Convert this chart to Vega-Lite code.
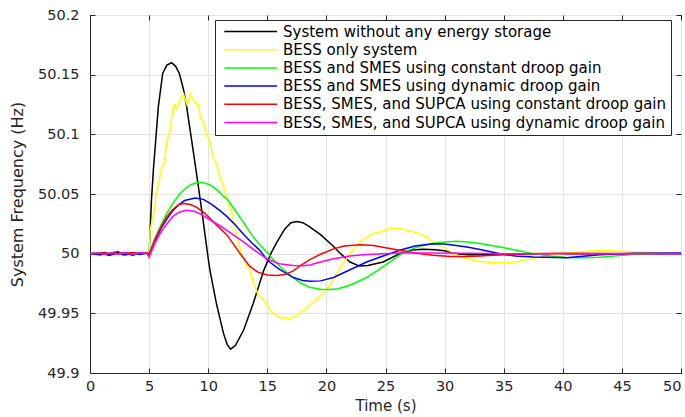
{
  "$schema": "https://vega.github.io/schema/vega-lite/v6.json",
  "width": 591,
  "height": 358,
  "autosize": {"type": "none"},
  "padding": {"left": 90, "top": 15, "right": 4, "bottom": 44},
  "background": "white",
  "config": {
    "view": {"stroke": "#262626", "strokeWidth": 1},
    "font": "DejaVu Sans",
    "axis": {
      "labelFont": "DejaVu Sans",
      "titleFont": "DejaVu Sans",
      "labelFontSize": 14.5,
      "titleFontSize": 15,
      "titleFontWeight": "normal",
      "labelColor": "#262626",
      "titleColor": "#262626",
      "domainColor": "#262626",
      "tickColor": "#262626",
      "gridColor": "#e3e3e3",
      "gridWidth": 1,
      "labelFlush": false
    }
  },
  "datasets": {
    "d": [
      {"s": "System without any energy storage", "t": 0, "f": 50.0},
      {"s": "System without any energy storage", "t": 0.4, "f": 50.001},
      {"s": "System without any energy storage", "t": 0.8, "f": 49.999},
      {"s": "System without any energy storage", "t": 1.2, "f": 50.0},
      {"s": "System without any energy storage", "t": 1.6, "f": 49.9985},
      {"s": "System without any energy storage", "t": 2.0, "f": 50.001},
      {"s": "System without any energy storage", "t": 2.4, "f": 50.0015},
      {"s": "System without any energy storage", "t": 2.8, "f": 49.999},
      {"s": "System without any energy storage", "t": 3.2, "f": 50.0005},
      {"s": "System without any energy storage", "t": 3.6, "f": 49.9985},
      {"s": "System without any energy storage", "t": 4.0, "f": 50.0},
      {"s": "System without any energy storage", "t": 4.4, "f": 50.001},
      {"s": "System without any energy storage", "t": 4.8, "f": 50.0005},
      {"s": "System without any energy storage", "t": 5.0, "f": 50.0},
      {"s": "System without any energy storage", "t": 5.05, "f": 50.01},
      {"s": "System without any energy storage", "t": 5.2, "f": 50.045},
      {"s": "System without any energy storage", "t": 5.36, "f": 50.07},
      {"s": "System without any energy storage", "t": 5.56, "f": 50.095},
      {"s": "System without any energy storage", "t": 5.78, "f": 50.123},
      {"s": "System without any energy storage", "t": 6.15, "f": 50.151},
      {"s": "System without any energy storage", "t": 6.5, "f": 50.158},
      {"s": "System without any energy storage", "t": 6.9, "f": 50.16},
      {"s": "System without any energy storage", "t": 7.25, "f": 50.157},
      {"s": "System without any energy storage", "t": 7.56, "f": 50.151},
      {"s": "System without any energy storage", "t": 7.9, "f": 50.138},
      {"s": "System without any energy storage", "t": 8.18, "f": 50.123},
      {"s": "System without any energy storage", "t": 8.6, "f": 50.095},
      {"s": "System without any energy storage", "t": 8.97, "f": 50.07},
      {"s": "System without any energy storage", "t": 9.5, "f": 50.033},
      {"s": "System without any energy storage", "t": 10.0, "f": 49.996},
      {"s": "System without any energy storage", "t": 10.15, "f": 49.986},
      {"s": "System without any energy storage", "t": 10.7, "f": 49.958},
      {"s": "System without any energy storage", "t": 11.3, "f": 49.933},
      {"s": "System without any energy storage", "t": 11.6, "f": 49.924},
      {"s": "System without any energy storage", "t": 11.9, "f": 49.92},
      {"s": "System without any energy storage", "t": 12.3, "f": 49.923},
      {"s": "System without any energy storage", "t": 13.0, "f": 49.936},
      {"s": "System without any energy storage", "t": 13.8, "f": 49.958},
      {"s": "System without any energy storage", "t": 14.7, "f": 49.986},
      {"s": "System without any energy storage", "t": 15.3, "f": 50.0},
      {"s": "System without any energy storage", "t": 15.8, "f": 50.0095},
      {"s": "System without any energy storage", "t": 16.5, "f": 50.021},
      {"s": "System without any energy storage", "t": 17.0, "f": 50.026},
      {"s": "System without any energy storage", "t": 17.5, "f": 50.027},
      {"s": "System without any energy storage", "t": 18.0, "f": 50.026},
      {"s": "System without any energy storage", "t": 18.5, "f": 50.023},
      {"s": "System without any energy storage", "t": 19.5, "f": 50.016},
      {"s": "System without any energy storage", "t": 20.5, "f": 50.007},
      {"s": "System without any energy storage", "t": 21.2, "f": 50.0},
      {"s": "System without any energy storage", "t": 22.0, "f": 49.993},
      {"s": "System without any energy storage", "t": 22.8, "f": 49.9896},
      {"s": "System without any energy storage", "t": 23.5, "f": 49.99},
      {"s": "System without any energy storage", "t": 24.8, "f": 49.993},
      {"s": "System without any energy storage", "t": 26.2, "f": 50.0},
      {"s": "System without any energy storage", "t": 27.2, "f": 50.003},
      {"s": "System without any energy storage", "t": 28.2, "f": 50.0036},
      {"s": "System without any energy storage", "t": 29.2, "f": 50.0033},
      {"s": "System without any energy storage", "t": 30.0, "f": 50.0025},
      {"s": "System without any energy storage", "t": 31.0, "f": 50.0},
      {"s": "System without any energy storage", "t": 32.0, "f": 49.999},
      {"s": "System without any energy storage", "t": 34.0, "f": 49.999},
      {"s": "System without any energy storage", "t": 36.0, "f": 49.9995},
      {"s": "System without any energy storage", "t": 38.0, "f": 50.0},
      {"s": "System without any energy storage", "t": 45.0, "f": 50.0},
      {"s": "System without any energy storage", "t": 50.0, "f": 50.0},

      {"s": "BESS only system", "t": 0, "f": 50.0},
      {"s": "BESS only system", "t": 0.5, "f": 50.001},
      {"s": "BESS only system", "t": 1.0, "f": 50.0015},
      {"s": "BESS only system", "t": 1.5, "f": 50.001},
      {"s": "BESS only system", "t": 2.0, "f": 50.0},
      {"s": "BESS only system", "t": 2.5, "f": 50.001},
      {"s": "BESS only system", "t": 3.0, "f": 50.0015},
      {"s": "BESS only system", "t": 3.5, "f": 50.001},
      {"s": "BESS only system", "t": 4.0, "f": 50.0},
      {"s": "BESS only system", "t": 4.5, "f": 50.001},
      {"s": "BESS only system", "t": 5.0, "f": 50.0},
      {"s": "BESS only system", "t": 5.1, "f": 50.02},
      {"s": "BESS only system", "t": 5.3, "f": 50.03},
      {"s": "BESS only system", "t": 5.5, "f": 50.04},
      {"s": "BESS only system", "t": 5.6, "f": 50.05},
      {"s": "BESS only system", "t": 5.8, "f": 50.058},
      {"s": "BESS only system", "t": 6.06, "f": 50.072},
      {"s": "BESS only system", "t": 6.3, "f": 50.076},
      {"s": "BESS only system", "t": 6.5, "f": 50.093},
      {"s": "BESS only system", "t": 6.77, "f": 50.103},
      {"s": "BESS only system", "t": 7.0, "f": 50.12},
      {"s": "BESS only system", "t": 7.15, "f": 50.125},
      {"s": "BESS only system", "t": 7.33, "f": 50.121},
      {"s": "BESS only system", "t": 7.6, "f": 50.128},
      {"s": "BESS only system", "t": 7.9, "f": 50.134},
      {"s": "BESS only system", "t": 8.2, "f": 50.125},
      {"s": "BESS only system", "t": 8.5, "f": 50.134},
      {"s": "BESS only system", "t": 8.8, "f": 50.127},
      {"s": "BESS only system", "t": 9.16, "f": 50.125},
      {"s": "BESS only system", "t": 9.35, "f": 50.114},
      {"s": "BESS only system", "t": 9.6, "f": 50.11},
      {"s": "BESS only system", "t": 9.85, "f": 50.1},
      {"s": "BESS only system", "t": 10.15, "f": 50.094},
      {"s": "BESS only system", "t": 10.4, "f": 50.081},
      {"s": "BESS only system", "t": 10.7, "f": 50.075},
      {"s": "BESS only system", "t": 11.0, "f": 50.064},
      {"s": "BESS only system", "t": 11.3, "f": 50.056},
      {"s": "BESS only system", "t": 11.6, "f": 50.047},
      {"s": "BESS only system", "t": 11.8, "f": 50.04},
      {"s": "BESS only system", "t": 12.0, "f": 50.034},
      {"s": "BESS only system", "t": 12.2, "f": 50.025},
      {"s": "BESS only system", "t": 12.4, "f": 50.017},
      {"s": "BESS only system", "t": 12.6, "f": 50.008},
      {"s": "BESS only system", "t": 12.8, "f": 50.0},
      {"s": "BESS only system", "t": 13.1, "f": 49.994},
      {"s": "BESS only system", "t": 13.5, "f": 49.986},
      {"s": "BESS only system", "t": 13.8, "f": 49.977},
      {"s": "BESS only system", "t": 14.2, "f": 49.966},
      {"s": "BESS only system", "t": 14.6, "f": 49.962},
      {"s": "BESS only system", "t": 14.95, "f": 49.958},
      {"s": "BESS only system", "t": 15.2, "f": 49.953},
      {"s": "BESS only system", "t": 15.5, "f": 49.95},
      {"s": "BESS only system", "t": 16.0, "f": 49.947},
      {"s": "BESS only system", "t": 16.3, "f": 49.9455},
      {"s": "BESS only system", "t": 16.6, "f": 49.9465},
      {"s": "BESS only system", "t": 16.9, "f": 49.9452},
      {"s": "BESS only system", "t": 17.2, "f": 49.947},
      {"s": "BESS only system", "t": 17.5, "f": 49.948},
      {"s": "BESS only system", "t": 17.8, "f": 49.951},
      {"s": "BESS only system", "t": 18.2, "f": 49.953},
      {"s": "BESS only system", "t": 18.6, "f": 49.957},
      {"s": "BESS only system", "t": 19.0, "f": 49.96},
      {"s": "BESS only system", "t": 19.5, "f": 49.9645},
      {"s": "BESS only system", "t": 20.0, "f": 49.97},
      {"s": "BESS only system", "t": 20.5, "f": 49.977},
      {"s": "BESS only system", "t": 21.0, "f": 49.985},
      {"s": "BESS only system", "t": 21.5, "f": 49.993},
      {"s": "BESS only system", "t": 22.0, "f": 50.0},
      {"s": "BESS only system", "t": 22.5, "f": 50.006},
      {"s": "BESS only system", "t": 23.0, "f": 50.011},
      {"s": "BESS only system", "t": 23.5, "f": 50.014},
      {"s": "BESS only system", "t": 24.0, "f": 50.017},
      {"s": "BESS only system", "t": 24.5, "f": 50.018},
      {"s": "BESS only system", "t": 25.0, "f": 50.02},
      {"s": "BESS only system", "t": 25.5, "f": 50.021},
      {"s": "BESS only system", "t": 26.0, "f": 50.021},
      {"s": "BESS only system", "t": 26.5, "f": 50.0205},
      {"s": "BESS only system", "t": 27.0, "f": 50.019},
      {"s": "BESS only system", "t": 27.5, "f": 50.018},
      {"s": "BESS only system", "t": 28.0, "f": 50.016},
      {"s": "BESS only system", "t": 28.5, "f": 50.014},
      {"s": "BESS only system", "t": 29.0, "f": 50.01},
      {"s": "BESS only system", "t": 29.5, "f": 50.0075},
      {"s": "BESS only system", "t": 30.0, "f": 50.005},
      {"s": "BESS only system", "t": 30.5, "f": 50.002},
      {"s": "BESS only system", "t": 31.0, "f": 49.999},
      {"s": "BESS only system", "t": 31.5, "f": 49.997},
      {"s": "BESS only system", "t": 32.0, "f": 49.9955},
      {"s": "BESS only system", "t": 33.0, "f": 49.9935},
      {"s": "BESS only system", "t": 34.0, "f": 49.9925},
      {"s": "BESS only system", "t": 35.0, "f": 49.9922},
      {"s": "BESS only system", "t": 36.0, "f": 49.993},
      {"s": "BESS only system", "t": 37.0, "f": 49.995},
      {"s": "BESS only system", "t": 38.0, "f": 49.997},
      {"s": "BESS only system", "t": 39.0, "f": 49.999},
      {"s": "BESS only system", "t": 40.0, "f": 50.0},
      {"s": "BESS only system", "t": 41.0, "f": 50.001},
      {"s": "BESS only system", "t": 42.0, "f": 50.002},
      {"s": "BESS only system", "t": 43.0, "f": 50.0025},
      {"s": "BESS only system", "t": 44.0, "f": 50.0025},
      {"s": "BESS only system", "t": 45.0, "f": 50.002},
      {"s": "BESS only system", "t": 46.0, "f": 50.0015},
      {"s": "BESS only system", "t": 47.0, "f": 50.001},
      {"s": "BESS only system", "t": 48.0, "f": 50.0005},
      {"s": "BESS only system", "t": 50.0, "f": 50.0},

      {"s": "BESS and SMES using constant droop gain", "t": 0, "f": 50.0},
      {"s": "BESS and SMES using constant droop gain", "t": 1.0, "f": 50.0005},
      {"s": "BESS and SMES using constant droop gain", "t": 2.0, "f": 49.9998},
      {"s": "BESS and SMES using constant droop gain", "t": 3.0, "f": 50.0005},
      {"s": "BESS and SMES using constant droop gain", "t": 4.0, "f": 49.9998},
      {"s": "BESS and SMES using constant droop gain", "t": 5.0, "f": 50.0},
      {"s": "BESS and SMES using constant droop gain", "t": 5.5, "f": 50.013},
      {"s": "BESS and SMES using constant droop gain", "t": 6.0, "f": 50.024},
      {"s": "BESS and SMES using constant droop gain", "t": 6.5, "f": 50.034},
      {"s": "BESS and SMES using constant droop gain", "t": 7.0, "f": 50.042},
      {"s": "BESS and SMES using constant droop gain", "t": 7.5, "f": 50.049},
      {"s": "BESS and SMES using constant droop gain", "t": 8.0, "f": 50.054},
      {"s": "BESS and SMES using constant droop gain", "t": 8.5, "f": 50.0578},
      {"s": "BESS and SMES using constant droop gain", "t": 9.16, "f": 50.0598},
      {"s": "BESS and SMES using constant droop gain", "t": 9.7, "f": 50.0592},
      {"s": "BESS and SMES using constant droop gain", "t": 10.2, "f": 50.0575},
      {"s": "BESS and SMES using constant droop gain", "t": 10.8, "f": 50.053},
      {"s": "BESS and SMES using constant droop gain", "t": 11.2, "f": 50.049},
      {"s": "BESS and SMES using constant droop gain", "t": 11.7, "f": 50.0445},
      {"s": "BESS and SMES using constant droop gain", "t": 12.3, "f": 50.036},
      {"s": "BESS and SMES using constant droop gain", "t": 13.0, "f": 50.026},
      {"s": "BESS and SMES using constant droop gain", "t": 13.6, "f": 50.017},
      {"s": "BESS and SMES using constant droop gain", "t": 14.3, "f": 50.008},
      {"s": "BESS and SMES using constant droop gain", "t": 15.0, "f": 50.001},
      {"s": "BESS and SMES using constant droop gain", "t": 15.5, "f": 49.995},
      {"s": "BESS and SMES using constant droop gain", "t": 16.2, "f": 49.988},
      {"s": "BESS and SMES using constant droop gain", "t": 17.2, "f": 49.98},
      {"s": "BESS and SMES using constant droop gain", "t": 17.9, "f": 49.975},
      {"s": "BESS and SMES using constant droop gain", "t": 18.6, "f": 49.9718},
      {"s": "BESS and SMES using constant droop gain", "t": 19.5, "f": 49.9702},
      {"s": "BESS and SMES using constant droop gain", "t": 20.3, "f": 49.97},
      {"s": "BESS and SMES using constant droop gain", "t": 21.0, "f": 49.9706},
      {"s": "BESS and SMES using constant droop gain", "t": 22.0, "f": 49.9735},
      {"s": "BESS and SMES using constant droop gain", "t": 23.4, "f": 49.98},
      {"s": "BESS and SMES using constant droop gain", "t": 24.5, "f": 49.987},
      {"s": "BESS and SMES using constant droop gain", "t": 25.5, "f": 49.994},
      {"s": "BESS and SMES using constant droop gain", "t": 26.2, "f": 49.999},
      {"s": "BESS and SMES using constant droop gain", "t": 27.0, "f": 50.003},
      {"s": "BESS and SMES using constant droop gain", "t": 28.0, "f": 50.0065},
      {"s": "BESS and SMES using constant droop gain", "t": 29.0, "f": 50.0085},
      {"s": "BESS and SMES using constant droop gain", "t": 30.0, "f": 50.0098},
      {"s": "BESS and SMES using constant droop gain", "t": 31.0, "f": 50.0103},
      {"s": "BESS and SMES using constant droop gain", "t": 32.0, "f": 50.0098},
      {"s": "BESS and SMES using constant droop gain", "t": 33.0, "f": 50.0085},
      {"s": "BESS and SMES using constant droop gain", "t": 34.7, "f": 50.0056},
      {"s": "BESS and SMES using constant droop gain", "t": 36.0, "f": 50.003},
      {"s": "BESS and SMES using constant droop gain", "t": 37.5, "f": 50.0},
      {"s": "BESS and SMES using constant droop gain", "t": 39.0, "f": 49.998},
      {"s": "BESS and SMES using constant droop gain", "t": 40.3, "f": 49.9967},
      {"s": "BESS and SMES using constant droop gain", "t": 41.5, "f": 49.9965},
      {"s": "BESS and SMES using constant droop gain", "t": 43.1, "f": 49.997},
      {"s": "BESS and SMES using constant droop gain", "t": 45.9, "f": 49.9992},
      {"s": "BESS and SMES using constant droop gain", "t": 48.0, "f": 50.0},
      {"s": "BESS and SMES using constant droop gain", "t": 50.0, "f": 50.0},

      {"s": "BESS and SMES using dynamic droop gain", "t": 0, "f": 50.0},
      {"s": "BESS and SMES using dynamic droop gain", "t": 0.6, "f": 49.9993},
      {"s": "BESS and SMES using dynamic droop gain", "t": 1.2, "f": 50.001},
      {"s": "BESS and SMES using dynamic droop gain", "t": 1.8, "f": 49.999},
      {"s": "BESS and SMES using dynamic droop gain", "t": 2.4, "f": 50.001},
      {"s": "BESS and SMES using dynamic droop gain", "t": 3.0, "f": 49.999},
      {"s": "BESS and SMES using dynamic droop gain", "t": 3.6, "f": 50.0008},
      {"s": "BESS and SMES using dynamic droop gain", "t": 4.2, "f": 49.9993},
      {"s": "BESS and SMES using dynamic droop gain", "t": 4.8, "f": 50.0005},
      {"s": "BESS and SMES using dynamic droop gain", "t": 5.0, "f": 49.999},
      {"s": "BESS and SMES using dynamic droop gain", "t": 5.5, "f": 50.011},
      {"s": "BESS and SMES using dynamic droop gain", "t": 6.0, "f": 50.021},
      {"s": "BESS and SMES using dynamic droop gain", "t": 6.5, "f": 50.029},
      {"s": "BESS and SMES using dynamic droop gain", "t": 7.0, "f": 50.036},
      {"s": "BESS and SMES using dynamic droop gain", "t": 7.5, "f": 50.041},
      {"s": "BESS and SMES using dynamic droop gain", "t": 8.0, "f": 50.0445},
      {"s": "BESS and SMES using dynamic droop gain", "t": 8.9, "f": 50.0467},
      {"s": "BESS and SMES using dynamic droop gain", "t": 9.6, "f": 50.0455},
      {"s": "BESS and SMES using dynamic droop gain", "t": 10.2, "f": 50.042},
      {"s": "BESS and SMES using dynamic droop gain", "t": 11.0, "f": 50.036},
      {"s": "BESS and SMES using dynamic droop gain", "t": 11.6, "f": 50.031},
      {"s": "BESS and SMES using dynamic droop gain", "t": 12.3, "f": 50.024},
      {"s": "BESS and SMES using dynamic droop gain", "t": 13.0, "f": 50.016},
      {"s": "BESS and SMES using dynamic droop gain", "t": 13.7, "f": 50.009},
      {"s": "BESS and SMES using dynamic droop gain", "t": 14.4, "f": 50.0025},
      {"s": "BESS and SMES using dynamic droop gain", "t": 15.0, "f": 49.9945},
      {"s": "BESS and SMES using dynamic droop gain", "t": 16.0, "f": 49.987},
      {"s": "BESS and SMES using dynamic droop gain", "t": 17.2, "f": 49.98},
      {"s": "BESS and SMES using dynamic droop gain", "t": 18.0, "f": 49.9775},
      {"s": "BESS and SMES using dynamic droop gain", "t": 18.6, "f": 49.9768},
      {"s": "BESS and SMES using dynamic droop gain", "t": 19.5, "f": 49.9772},
      {"s": "BESS and SMES using dynamic droop gain", "t": 20.6, "f": 49.98},
      {"s": "BESS and SMES using dynamic droop gain", "t": 22.0, "f": 49.9865},
      {"s": "BESS and SMES using dynamic droop gain", "t": 23.4, "f": 49.993},
      {"s": "BESS and SMES using dynamic droop gain", "t": 24.8, "f": 49.998},
      {"s": "BESS and SMES using dynamic droop gain", "t": 26.2, "f": 50.0028},
      {"s": "BESS and SMES using dynamic droop gain", "t": 27.5, "f": 50.0065},
      {"s": "BESS and SMES using dynamic droop gain", "t": 29.0, "f": 50.0084},
      {"s": "BESS and SMES using dynamic droop gain", "t": 30.0, "f": 50.008},
      {"s": "BESS and SMES using dynamic droop gain", "t": 31.9, "f": 50.0056},
      {"s": "BESS and SMES using dynamic droop gain", "t": 33.0, "f": 50.0035},
      {"s": "BESS and SMES using dynamic droop gain", "t": 34.7, "f": 50.0},
      {"s": "BESS and SMES using dynamic droop gain", "t": 36.0, "f": 49.998},
      {"s": "BESS and SMES using dynamic droop gain", "t": 37.5, "f": 49.9972},
      {"s": "BESS and SMES using dynamic droop gain", "t": 40.3, "f": 49.9966},
      {"s": "BESS and SMES using dynamic droop gain", "t": 43.1, "f": 49.999},
      {"s": "BESS and SMES using dynamic droop gain", "t": 46.0, "f": 50.0003},
      {"s": "BESS and SMES using dynamic droop gain", "t": 50.0, "f": 50.0006},

      {"s": "BESS, SMES, and SUPCA using constant droop gain", "t": 0, "f": 50.0},
      {"s": "BESS, SMES, and SUPCA using constant droop gain", "t": 1.0, "f": 50.0005},
      {"s": "BESS, SMES, and SUPCA using constant droop gain", "t": 2.0, "f": 50.0},
      {"s": "BESS, SMES, and SUPCA using constant droop gain", "t": 3.0, "f": 50.0008},
      {"s": "BESS, SMES, and SUPCA using constant droop gain", "t": 4.0, "f": 50.0005},
      {"s": "BESS, SMES, and SUPCA using constant droop gain", "t": 4.8, "f": 50.0008},
      {"s": "BESS, SMES, and SUPCA using constant droop gain", "t": 5.0, "f": 49.998},
      {"s": "BESS, SMES, and SUPCA using constant droop gain", "t": 5.5, "f": 50.012},
      {"s": "BESS, SMES, and SUPCA using constant droop gain", "t": 6.0, "f": 50.022},
      {"s": "BESS, SMES, and SUPCA using constant droop gain", "t": 6.5, "f": 50.031},
      {"s": "BESS, SMES, and SUPCA using constant droop gain", "t": 7.0, "f": 50.037},
      {"s": "BESS, SMES, and SUPCA using constant droop gain", "t": 7.5, "f": 50.041},
      {"s": "BESS, SMES, and SUPCA using constant droop gain", "t": 7.9, "f": 50.042},
      {"s": "BESS, SMES, and SUPCA using constant droop gain", "t": 8.5, "f": 50.0412},
      {"s": "BESS, SMES, and SUPCA using constant droop gain", "t": 9.0, "f": 50.039},
      {"s": "BESS, SMES, and SUPCA using constant droop gain", "t": 9.7, "f": 50.034},
      {"s": "BESS, SMES, and SUPCA using constant droop gain", "t": 10.5, "f": 50.026},
      {"s": "BESS, SMES, and SUPCA using constant droop gain", "t": 11.6, "f": 50.0155},
      {"s": "BESS, SMES, and SUPCA using constant droop gain", "t": 12.7, "f": 50.0},
      {"s": "BESS, SMES, and SUPCA using constant droop gain", "t": 13.5, "f": 49.9895},
      {"s": "BESS, SMES, and SUPCA using constant droop gain", "t": 14.2, "f": 49.9845},
      {"s": "BESS, SMES, and SUPCA using constant droop gain", "t": 15.0, "f": 49.9822},
      {"s": "BESS, SMES, and SUPCA using constant droop gain", "t": 15.8, "f": 49.9818},
      {"s": "BESS, SMES, and SUPCA using constant droop gain", "t": 16.5, "f": 49.9825},
      {"s": "BESS, SMES, and SUPCA using constant droop gain", "t": 17.2, "f": 49.9855},
      {"s": "BESS, SMES, and SUPCA using constant droop gain", "t": 17.8, "f": 49.99},
      {"s": "BESS, SMES, and SUPCA using constant droop gain", "t": 18.6, "f": 49.995},
      {"s": "BESS, SMES, and SUPCA using constant droop gain", "t": 19.5, "f": 49.9995},
      {"s": "BESS, SMES, and SUPCA using constant droop gain", "t": 20.6, "f": 50.004},
      {"s": "BESS, SMES, and SUPCA using constant droop gain", "t": 21.5, "f": 50.0065},
      {"s": "BESS, SMES, and SUPCA using constant droop gain", "t": 22.8, "f": 50.0075},
      {"s": "BESS, SMES, and SUPCA using constant droop gain", "t": 24.0, "f": 50.0068},
      {"s": "BESS, SMES, and SUPCA using constant droop gain", "t": 25.0, "f": 50.005},
      {"s": "BESS, SMES, and SUPCA using constant droop gain", "t": 26.2, "f": 50.0028},
      {"s": "BESS, SMES, and SUPCA using constant droop gain", "t": 27.5, "f": 50.0005},
      {"s": "BESS, SMES, and SUPCA using constant droop gain", "t": 29.0, "f": 49.9986},
      {"s": "BESS, SMES, and SUPCA using constant droop gain", "t": 30.5, "f": 49.9977},
      {"s": "BESS, SMES, and SUPCA using constant droop gain", "t": 31.9, "f": 49.9976},
      {"s": "BESS, SMES, and SUPCA using constant droop gain", "t": 33.0, "f": 49.998},
      {"s": "BESS, SMES, and SUPCA using constant droop gain", "t": 34.7, "f": 49.999},
      {"s": "BESS, SMES, and SUPCA using constant droop gain", "t": 36.5, "f": 50.0},
      {"s": "BESS, SMES, and SUPCA using constant droop gain", "t": 40.0, "f": 50.0003},
      {"s": "BESS, SMES, and SUPCA using constant droop gain", "t": 45.0, "f": 50.0002},
      {"s": "BESS, SMES, and SUPCA using constant droop gain", "t": 50.0, "f": 50.0},

      {"s": "BESS, SMES, and SUPCA using dynamic droop gain", "t": 0, "f": 50.0},
      {"s": "BESS, SMES, and SUPCA using dynamic droop gain", "t": 0.6, "f": 50.0005},
      {"s": "BESS, SMES, and SUPCA using dynamic droop gain", "t": 1.2, "f": 49.9995},
      {"s": "BESS, SMES, and SUPCA using dynamic droop gain", "t": 1.8, "f": 50.0007},
      {"s": "BESS, SMES, and SUPCA using dynamic droop gain", "t": 2.4, "f": 49.9995},
      {"s": "BESS, SMES, and SUPCA using dynamic droop gain", "t": 3.0, "f": 50.0007},
      {"s": "BESS, SMES, and SUPCA using dynamic droop gain", "t": 3.6, "f": 49.9995},
      {"s": "BESS, SMES, and SUPCA using dynamic droop gain", "t": 4.2, "f": 50.0007},
      {"s": "BESS, SMES, and SUPCA using dynamic droop gain", "t": 4.8, "f": 50.0003},
      {"s": "BESS, SMES, and SUPCA using dynamic droop gain", "t": 5.0, "f": 49.997},
      {"s": "BESS, SMES, and SUPCA using dynamic droop gain", "t": 5.5, "f": 50.009},
      {"s": "BESS, SMES, and SUPCA using dynamic droop gain", "t": 6.0, "f": 50.018},
      {"s": "BESS, SMES, and SUPCA using dynamic droop gain", "t": 6.5, "f": 50.025},
      {"s": "BESS, SMES, and SUPCA using dynamic droop gain", "t": 7.0, "f": 50.031},
      {"s": "BESS, SMES, and SUPCA using dynamic droop gain", "t": 7.5, "f": 50.0345},
      {"s": "BESS, SMES, and SUPCA using dynamic droop gain", "t": 8.1, "f": 50.0363},
      {"s": "BESS, SMES, and SUPCA using dynamic droop gain", "t": 8.8, "f": 50.0355},
      {"s": "BESS, SMES, and SUPCA using dynamic droop gain", "t": 9.5, "f": 50.0325},
      {"s": "BESS, SMES, and SUPCA using dynamic droop gain", "t": 10.2, "f": 50.028},
      {"s": "BESS, SMES, and SUPCA using dynamic droop gain", "t": 11.0, "f": 50.0235},
      {"s": "BESS, SMES, and SUPCA using dynamic droop gain", "t": 12.0, "f": 50.0165},
      {"s": "BESS, SMES, and SUPCA using dynamic droop gain", "t": 12.9, "f": 50.0105},
      {"s": "BESS, SMES, and SUPCA using dynamic droop gain", "t": 13.9, "f": 50.003},
      {"s": "BESS, SMES, and SUPCA using dynamic droop gain", "t": 14.95, "f": 49.9958},
      {"s": "BESS, SMES, and SUPCA using dynamic droop gain", "t": 16.0, "f": 49.9915},
      {"s": "BESS, SMES, and SUPCA using dynamic droop gain", "t": 17.2, "f": 49.99},
      {"s": "BESS, SMES, and SUPCA using dynamic droop gain", "t": 18.0, "f": 49.9898},
      {"s": "BESS, SMES, and SUPCA using dynamic droop gain", "t": 18.6, "f": 49.9905},
      {"s": "BESS, SMES, and SUPCA using dynamic droop gain", "t": 19.5, "f": 49.993},
      {"s": "BESS, SMES, and SUPCA using dynamic droop gain", "t": 20.6, "f": 49.9958},
      {"s": "BESS, SMES, and SUPCA using dynamic droop gain", "t": 22.0, "f": 49.998},
      {"s": "BESS, SMES, and SUPCA using dynamic droop gain", "t": 23.4, "f": 49.9994},
      {"s": "BESS, SMES, and SUPCA using dynamic droop gain", "t": 26.2, "f": 50.0005},
      {"s": "BESS, SMES, and SUPCA using dynamic droop gain", "t": 29.0, "f": 50.0006},
      {"s": "BESS, SMES, and SUPCA using dynamic droop gain", "t": 32.0, "f": 50.0003},
      {"s": "BESS, SMES, and SUPCA using dynamic droop gain", "t": 35.0, "f": 50.0},
      {"s": "BESS, SMES, and SUPCA using dynamic droop gain", "t": 50.0, "f": 50.0}
    ]
  },
  "data": {"name": "d"},
  "layer": [
    {
      "mark": {"type": "line", "strokeWidth": 1.5, "clip": true},
      "encoding": {
        "x": {
          "field": "t", "type": "quantitative",
          "scale": {"domain": [0, 50], "nice": false, "zero": false},
          "axis": {
            "title": "Time (s)",
            "values": [0,5,10,15,20,25,30,35,40,45,50],
            "grid": true, "tickSize": -5, "labelPadding": 11, "titlePadding": 6,
            "labelAlign": {"condition": {"test": "datum.value == 50", "value": "right"}, "value": "center"}
          }
        },
        "y": {
          "field": "f", "type": "quantitative",
          "scale": {"domain": [49.9, 50.2], "nice": false, "zero": false},
          "axis": {"title": "System Frequency (Hz)", "titleFontSize": 16, "values": [49.9,49.95,50,50.05,50.1,50.15,50.2], "format": "~g", "grid": true, "tickSize": -5, "labelPadding": 16, "titlePadding": 12}
        },
        "color": {
          "field": "s", "type": "nominal",
          "scale": {
            "domain": ["System without any energy storage", "BESS only system", "BESS and SMES using constant droop gain", "BESS and SMES using dynamic droop gain", "BESS, SMES, and SUPCA using constant droop gain", "BESS, SMES, and SUPCA using dynamic droop gain"],
            "range": ["#000000", "#ffff00", "#00ff00", "#0000ff", "#ff0000", "#ff00ff"]
          },
          "legend": {
            "title": null,
            "orient": "none",
            "legendX": 125,
            "legendY": 5,
            "direction": "vertical",
            "fillColor": "white",
            "strokeColor": "#262626",
            "padding": 4,
            "symbolType": "M-0.4,0H9.2",
            "symbolSize": 121,
            "symbolStrokeWidth": 1.5,
            "labelFont": "DejaVu Sans",
            "labelFontSize": 15,
            "labelColor": "#000000",
            "labelLimit": 600,
            "labelOffset": 49,
            "rowPadding": 2.2
          }
        },
        "order": {"field": "t", "type": "quantitative"}
      }
    },
    {
      "mark": {"type": "line", "opacity": 0},
      "encoding": {
        "x": {
          "field": "t", "type": "quantitative",
          "axis": {"orient": "top", "title": null, "labels": false, "grid": false, "domain": false, "values": [0,5,10,15,20,25,30,35,40,45,50], "tickSize": -5}
        },
        "y": {
          "field": "f", "type": "quantitative",
          "axis": {"orient": "right", "title": null, "labels": false, "grid": false, "domain": false, "values": [49.9,49.95,50,50.05,50.1,50.15,50.2], "tickSize": -5}
        },
        "detail": {"field": "s"}
      }
    }
  ],
  "resolve": {"axis": {"x": "independent", "y": "independent"}}
}
